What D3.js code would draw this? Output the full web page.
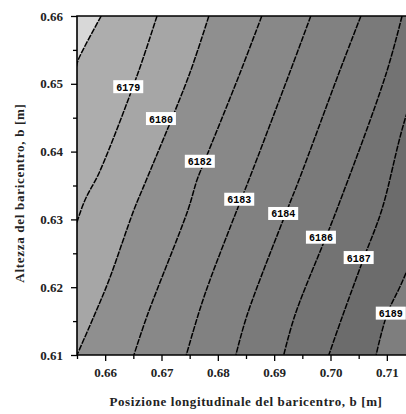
<!DOCTYPE html>
<html>
<head>
<meta charset="utf-8">
<script src="https://cdn.jsdelivr.net/npm/d3@7"></script>
<style>
  body { margin: 0; background: #fff; }
  svg { display: block; }
</style>
</head>
<body>
<div id="chart"></div>
<script>
// Contour map of the baricentro position

// Axis ticks
const xTicks = [0.66, 0.67, 0.68, 0.69, 0.70, 0.71];
const xMinor = [0.655, 0.665, 0.675, 0.685, 0.695, 0.705];
const yTicks = [0.61, 0.62, 0.63, 0.64, 0.65, 0.66];
const yMinor = [0.615, 0.625, 0.635, 0.645, 0.655];

// Contour levels (left to right); first one carries no label
const levels = [6177, 6179, 6180, 6182, 6183, 6184, 6186, 6187, 6189];

// Contour lines as [x, y] points, top to bottom
const contourLines = [
  [[0.6593, 0.660], [0.6552, 0.6535], [0.6549, 0.6525], [0.6450, 0.600]],
  [[0.6692, 0.660], [0.6657, 0.6513], [0.6590, 0.6370], [0.6560, 0.6320], [0.6450, 0.600]],
  [[0.6784, 0.660], [0.6749, 0.6513], [0.6673, 0.6358], [0.6651, 0.6314], [0.6607, 0.6211], [0.6581, 0.6159], [0.6550, 0.610]],
  [[0.6878, 0.660], [0.6838, 0.6513], [0.6776, 0.6385], [0.6763, 0.6358], [0.6747, 0.6314], [0.6675, 0.6159], [0.6651, 0.610]],
  [[0.6965, 0.660], [0.6926, 0.6513], [0.6855, 0.6358], [0.6834, 0.6314], [0.6784, 0.6206], [0.6765, 0.6159], [0.6744, 0.610]],
  [[0.7054, 0.660], [0.7015, 0.6516], [0.6944, 0.6358], [0.6923, 0.6314], [0.6852, 0.6159], [0.6832, 0.610]],
  [[0.7127, 0.660], [0.7098, 0.6513], [0.7011, 0.6314], [0.6937, 0.6159], [0.6917, 0.610]],
  [[0.7196, 0.660], [0.7132, 0.6447], [0.7091, 0.6314], [0.7059, 0.6243], [0.7022, 0.6159], [0.6997, 0.610]],
  [[0.7302, 0.660], [0.7132, 0.6217], [0.7100, 0.6159], [0.7081, 0.610]]
];

// Where each level label sits (same order as levels)
const labelX = [null, 0.6641, 0.6699, 0.6768, 0.6838, 0.6916, 0.6983, 0.7050, 0.7107];
const labelY = [null, 0.6495, 0.6448, 0.6385, 0.6329, 0.6308, 0.6273, 0.6243, 0.6161];

// Band shades, from left of the first line to right of the last
const bandColors = ["#d8d8d8", "#adadad", "#a6a6a6", "#8f8f8f", "#888888",
                    "#818181", "#7a7a7a", "#737373", "#6c6c6c", "#7e7e7e"];

const W = 406, H = 414;
const plotLeft = 77, plotTop = 16, plotBottom = 355, plotRight = 415;

const x = d3.scaleLinear().domain([0.655, 0.715]).range([plotLeft, plotRight]);
const y = d3.scaleLinear().domain([0.61, 0.66]).range([plotBottom, plotTop]);

const svg = d3.select("#chart").append("svg")
  .attr("width", W)
  .attr("height", H);

svg.append("clipPath").attr("id", "plotclip")
  .append("rect")
  .attr("x", plotLeft).attr("y", plotTop)
  .attr("width", plotRight - plotLeft).attr("height", plotBottom - plotTop);

const plot = svg.append("g").attr("clip-path", "url(#plotclip)");

const line = d3.line()
  .x(d => x(d[0]))
  .y(d => y(d[1]))
  .curve(d3.curveCatmullRom);

// background band (left of first contour)
plot.append("rect")
  .attr("x", plotLeft).attr("y", plotTop)
  .attr("width", plotRight - plotLeft).attr("height", plotBottom - plotTop)
  .attr("fill", bandColors[0]);

// each band = everything right of a contour, painted left to right
contourLines.forEach((pts, i) => {
  const first = pts[0], last = pts[pts.length - 1];
  const d = line(pts) +
    `L${x(0.8)},${y(last[1])}L${x(0.8)},${y(first[1])}Z`;
  plot.append("path")
    .attr("d", d)
    .attr("fill", bandColors[i + 1]);
});

// contour lines
plot.selectAll(".contour")
  .data(contourLines)
  .enter().append("path")
  .attr("class", "contour")
  .attr("d", line)
  .attr("fill", "none")
  .attr("stroke", "#000")
  .attr("stroke-width", 1.5)
  .attr("stroke-dasharray", "6,1.2");

// level labels
levels.forEach((lv, i) => {
  if (labelX[i] == null) return;
  const cx = x(labelX[i]), cy = y(labelY[i]);
  const g = plot.append("g").attr("transform", `translate(${cx},${cy})`);
  g.append("rect")
    .attr("x", -15).attr("y", -7)
    .attr("width", 30).attr("height", 13)
    .attr("fill", "#fff");
  g.append("text")
    .attr("text-anchor", "middle")
    .attr("dy", "0.35em")
    .style("font-family", "'Liberation Mono', monospace")
    .style("font-weight", "bold")
    .style("font-size", "10px")
    .attr("fill", "#000")
    .text(lv);
});

// axes
const tickFont = sel => sel.selectAll("text")
  .style("font-family", "'Liberation Serif', serif")
  .style("font-weight", "bold")
  .style("font-size", "13px")
  .attr("fill", "#222");

const xAxisG = svg.append("g")
  .attr("transform", `translate(0,${plotBottom})`)
  .call(d3.axisBottom(x).tickValues(xTicks).tickSize(6).tickPadding(7)
    .tickFormat(d3.format(".2f")));
xAxisG.select(".domain").remove();
tickFont(xAxisG);

const xMinorG = svg.append("g")
  .attr("transform", `translate(0,${plotBottom})`)
  .call(d3.axisBottom(x).tickValues(xMinor).tickSize(4).tickFormat(""));
xMinorG.select(".domain").remove();

const yAxisG = svg.append("g")
  .attr("transform", `translate(${plotLeft},0)`)
  .call(d3.axisLeft(y).tickValues(yTicks).tickSize(6).tickPadding(8)
    .tickFormat(d3.format(".2f")));
yAxisG.select(".domain").remove();
tickFont(yAxisG);

const yMinorG = svg.append("g")
  .attr("transform", `translate(${plotLeft},0)`)
  .call(d3.axisLeft(y).tickValues(yMinor).tickSize(4).tickFormat(""));
yMinorG.select(".domain").remove();

svg.selectAll(".tick line").attr("stroke", "#000").attr("stroke-width", 1.3);

// frame
svg.append("path")
  .attr("d", `M${W},${plotTop}H${plotLeft}V${plotBottom}H${W}`)
  .attr("fill", "none")
  .attr("stroke", "#000")
  .attr("stroke-width", 1.6);

// axis titles
svg.append("text")
  .attr("x", 246)
  .attr("y", 406)
  .attr("text-anchor", "middle")
  .style("font-family", "'Liberation Serif', serif")
  .style("font-weight", "bold")
  .style("font-size", "13px")
  .style("letter-spacing", "0.6px")
  .attr("fill", "#222")
  .text("Posizione longitudinale del baricentro, b [m]");

svg.append("text")
  .attr("transform", "translate(24,193) rotate(-90)")
  .attr("text-anchor", "middle")
  .style("font-family", "'Liberation Serif', serif")
  .style("font-weight", "bold")
  .style("font-size", "13px")
  .style("letter-spacing", "0.7px")
  .attr("fill", "#222")
  .text("Altezza del baricentro, b [m]");
</script>
</body>
</html>
